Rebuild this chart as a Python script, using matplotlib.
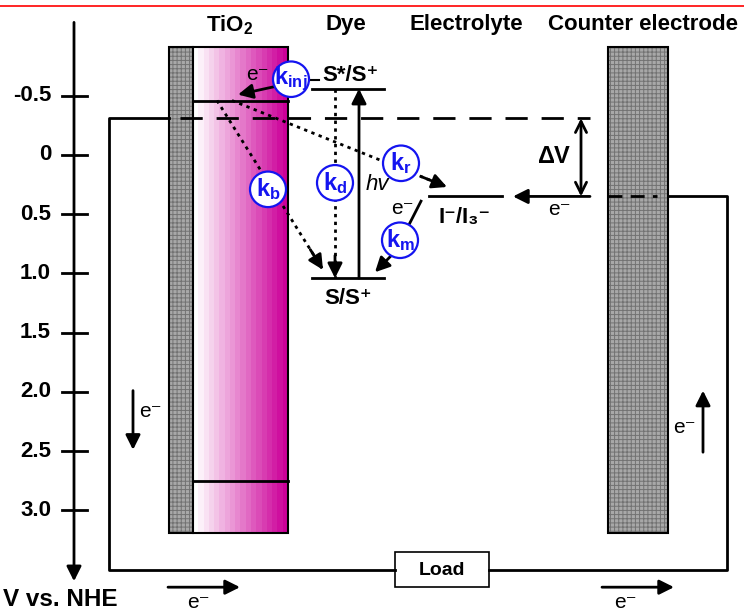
import matplotlib
matplotlib.use("Agg")
import matplotlib.pyplot as plt
import numpy as np
from matplotlib.patches import Rectangle, Ellipse

plt.rcParams['font.family'] = ['Liberation Sans', 'DejaVu Sans']
plt.rcParams['mathtext.fontset'] = 'custom'
plt.rcParams['mathtext.rm'] = 'Liberation Sans'
plt.rcParams['mathtext.it'] = 'Liberation Sans:italic'
plt.rcParams['mathtext.bf'] = 'Liberation Sans:bold'
plt.rcParams['hatch.linewidth'] = 0.7

# potential scale (V vs. NHE)
tick_values = [-0.5, 0, 0.5, 1.0, 1.5, 2.0, 2.5, 3.0]
tick_labels = ['-0.5', '0', '0.5', '1.0', '1.5', '2.0', '2.5', '3.0']

# energy levels (V vs. NHE)
tio2_cb = -0.46
tio2_vb = 2.75
fermi = -0.31
dye_excited = -0.56
dye_ground = 1.04
redox = 0.35

headers = ['$\\mathbf{TiO_2}$', 'Dye', 'Electrolyte', 'Counter electrode']
header_x = [230, 346, 466, 643]

rates = ['$\\mathbf{k_{inj}}$', '$\\mathbf{k_b}$', '$\\mathbf{k_d}$',
         '$\\mathbf{k_r}$', '$\\mathbf{k_m}$']
rate_x = [291, 268, 335, 401, 400]
rate_v = [-0.64, 0.29, 0.235, 0.07, 0.72]

EL = 'e\u207b'

fig = plt.figure(figsize=(7.44, 6.13), dpi=100)
ax = fig.add_axes([0, 0, 1, 1])
ax.axis('off')

blue = '#1414f0'
arrow = dict(arrowstyle='-|>', color='black', lw=2, mutation_scale=22,
             shrinkA=0, shrinkB=0)


def dotted_arrow(x0, v0, x1, v1):
    ax.plot([x0, x1], [v0, v1], color='black', lw=2, linestyle=(0, (1.2, 1.6)), zorder=4)
    f = 0.88
    ax.annotate('', xy=(x1, v1), xytext=(x0 + f * (x1 - x0), v0 + f * (v1 - v0)),
                arrowprops=arrow, zorder=4)


# red rule at the top
ax.plot([0, 744], [-1.258, -1.258], color='red', lw=1.2)

# potential axis
ax.annotate('', xy=(74, 3.60), xytext=(74, -1.12), arrowprops=arrow)
for tv, tl in zip(tick_values, tick_labels):
    ax.plot([62, 87], [tv, tv], color='black', lw=2)
    ax.text(51, tv, tl, ha='right', va='center', fontsize=16, fontweight='bold')
ax.text(3, 3.755, 'V vs. NHE', ha='left', va='center', fontsize=17.5, fontweight='bold')

for h, hx in zip(headers, header_x):
    ax.text(hx, -1.10, h, ha='center', va='center', fontsize=16, fontweight='bold')

# photoanode: FTO + TiO2 gradient
top, bot = -0.91, 3.19
ax.add_patch(Rectangle((169, top), 24, bot - top, facecolor='#a8a8a8',
                       edgecolor='#727272', hatch='++++', lw=0))
ax.add_patch(Rectangle((169, top), 24, bot - top, fill=False, edgecolor='black', lw=1.5))
nsteps = 18
t = np.linspace(0, 1, nsteps)
magenta = np.array([204, 0, 153]) / 255
grad = (1 - t)[:, None] * np.ones(3) + t[:, None] * magenta
ax.imshow(grad[None, :, :], extent=(193, 288, bot, top), aspect='auto',
          interpolation='nearest', zorder=1)
ax.add_patch(Rectangle((193, top), 95, bot - top, fill=False, edgecolor='black',
                       lw=1.5, zorder=2))
ax.plot([193, 288], [tio2_cb, tio2_cb], color='black', lw=2, zorder=3)
ax.plot([193, 288], [tio2_vb, tio2_vb], color='black', lw=2, zorder=3)

# counter electrode
ax.add_patch(Rectangle((608, top), 60, bot - top, facecolor='#a8a8a8',
                       edgecolor='#727272', hatch='++++', lw=0))
ax.add_patch(Rectangle((608, top), 60, bot - top, fill=False, edgecolor='black', lw=1.5))
ax.plot([608, 657], [redox, redox], color='black', lw=2, linestyle=(0, (5, 3)), zorder=3)

# external circuit
ax.plot([169, 109, 109, 395], [fermi, fermi, 3.505, 3.505], color='black', lw=2)
ax.plot([489, 727, 727, 668], [3.505, 3.505, redox, redox], color='black', lw=2)
ax.add_patch(Rectangle((395, 3.353), 94, 0.296, facecolor='white', edgecolor='black', lw=1.2))
ax.text(442, 3.505, 'Load', ha='center', va='center', fontsize=14, fontweight='bold')

# quasi-Fermi level
ax.plot([180, 590], [fermi, fermi], color='black', lw=2, linestyle=(0, (8, 5)), zorder=3)

# dye levels
ax.plot([312, 384], [dye_excited, dye_excited], color='black', lw=2)
ax.plot([312, 384], [dye_ground, dye_ground], color='black', lw=2)
ax.text(350, -0.67, 'S*/S\u207a', ha='center', va='center', fontsize=16, fontweight='bold')
ax.text(348, 1.21, 'S/S\u207a', ha='center', va='center', fontsize=16, fontweight='bold')
ax.annotate('', xy=(359, dye_excited), xytext=(359, dye_ground), arrowprops=arrow)
ax.text(377, 0.25, 'hv', ha='center', va='center', fontsize=16, style='italic')

# redox couple
ax.plot([429, 502], [redox, redox], color='black', lw=2)
ax.text(465, 0.53, 'I\u207b/I\u2083\u207b', ha='center', va='center', fontsize=16,
        fontweight='bold')
ax.annotate('', xy=(513, redox), xytext=(590, redox), arrowprops=arrow)
ax.text(559, 0.46, EL, ha='center', va='center', fontsize=15)
ax.annotate('', xy=(581, fermi), xytext=(581, redox),
            arrowprops=dict(arrowstyle='<->', color='black', lw=2, mutation_scale=20,
                            shrinkA=0, shrinkB=0))
ax.text(554, 0.02, '$\\mathbf{\\Delta V}$', ha='center', va='center', fontsize=17)

# electron transfer pathways
ax.annotate('', xy=(238, -0.51), xytext=(276, -0.58), arrowprops=arrow)
ax.text(257, -0.68, EL, ha='center', va='center', fontsize=15)
ax.plot([309, 319], [-0.63, -0.63], color='black', lw=1.5)
dotted_arrow(217, tio2_cb, 323, 0.97)
dotted_arrow(335, dye_excited, 335, dye_ground)
dotted_arrow(232, tio2_cb, 447, 0.27)
ax.plot([421, 395], [0.39, 0.82], color='black', lw=2)
ax.annotate('', xy=(375, 0.99), xytext=(397, 0.80), arrowprops=arrow)
ax.text(402, 0.45, EL, ha='center', va='center', fontsize=15)

for lab, rx, rv in zip(rates, rate_x, rate_v):
    ax.add_patch(Ellipse((rx, rv), 36, 0.30, facecolor='white', edgecolor=blue,
                         lw=1.6, zorder=5))
    ax.text(rx, rv, lab, ha='center', va='center', fontsize=17, color=blue, zorder=6)

# electron flow in the circuit
ax.annotate('', xy=(133, 2.49), xytext=(133, 1.99), arrowprops=arrow)
ax.text(150, 2.17, EL, ha='center', va='center', fontsize=15)
ax.annotate('', xy=(703, 1.99), xytext=(703, 2.51), arrowprops=arrow)
ax.text(684, 2.30, EL, ha='center', va='center', fontsize=15)
ax.annotate('', xy=(240, 3.65), xytext=(168, 3.65), arrowprops=arrow)
ax.text(198, 3.78, EL, ha='center', va='center', fontsize=15)
ax.annotate('', xy=(674, 3.65), xytext=(602, 3.65), arrowprops=arrow)
ax.text(625, 3.78, EL, ha='center', va='center', fontsize=15)

ax.set_xlim(0, 744)
ax.set_ylim(3.868, -1.309)

fig.savefig('out.png', dpi=100)
